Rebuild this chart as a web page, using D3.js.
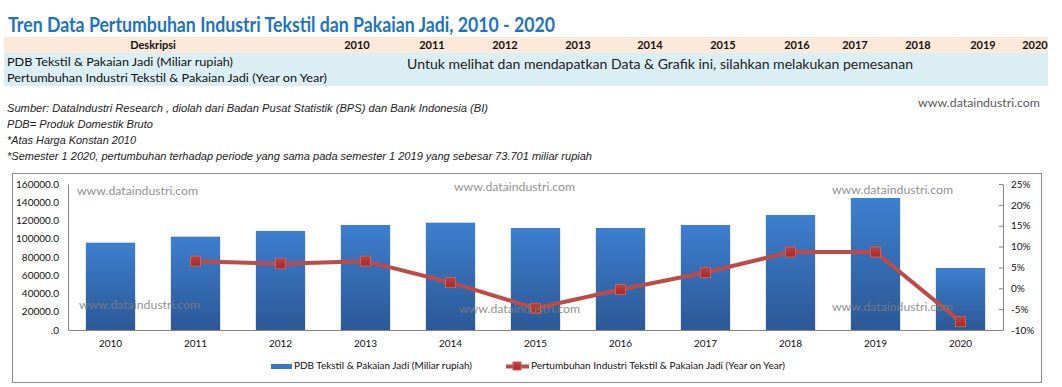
<!DOCTYPE html>
<html>
<head>
<meta charset="utf-8">
<script src="https://cdn.jsdelivr.net/npm/d3@7"></script>
<style>
  body { margin: 0; background: #fff; }
  svg text { font-family: Lato, "Open Sans", sans-serif; }
</style>
</head>
<body>
<script>
const w = 1062;
const h = 387;

// data
const years = ['2010', '2011', '2012', '2013', '2014', '2015', '2016', '2017', '2018', '2019', '2020'];
const pdb = [95700, 102300, 108500, 115100, 117600, 111800, 111800, 115100, 126000, 144700, 68000];
const growth = [null, 6.5, 5.9, 6.5, 1.4, -4.8, -0.3, 3.8, 8.7, 8.7, -8.0];
const leftTicks = [0, 20000, 40000, 60000, 80000, 100000, 120000, 140000, 160000];
const rightTicks = [-10, -5, 0, 5, 10, 15, 20, 25];
const seriesNames = ['PDB Tekstil & Pakaian Jadi (Miliar rupiah)', 'Pertumbuhan Industri Tekstil & Pakaian Jadi (Year on Year)'];
const notes = [
  'Sumber: DataIndustri Research , diolah dari Badan Pusat Statistik (BPS) dan Bank Indonesia (BI)',
  'PDB= Produk Domestik Bruto',
  '*Atas Harga Konstan 2010',
  '*Semester 1 2020, pertumbuhan terhadap periode yang sama pada semester 1 2019 yang sebesar 73.701 miliar rupiah'
];

// table column centres (spreadsheet column layout)
const headerX = [357, 432, 505, 578, 650, 723, 797, 855, 918, 983, 1035];
const noteWidths = [481, 146, 129, 585];

const plot = { left: 68, right: 1003, top: 184, bottom: 330 };

const svg = d3.select('body').append('svg')
  .attr('width', w)
  .attr('height', h);

const defs = svg.append('defs');
const grad = defs.append('linearGradient').attr('id', 'barGrad')
  .attr('x1', 0).attr('y1', 0).attr('x2', 0).attr('y2', 1);
grad.append('stop').attr('offset', '0%').attr('stop-color', '#3d7fcf');
grad.append('stop').attr('offset', '100%').attr('stop-color', '#2c5896');

const mgrad = defs.append('linearGradient').attr('id', 'markGrad')
  .attr('x1', 0).attr('y1', 0).attr('x2', 0).attr('y2', 1);
mgrad.append('stop').attr('offset', '0%').attr('stop-color', '#c0403c');
mgrad.append('stop').attr('offset', '100%').attr('stop-color', '#a52a27');

// title
svg.append('text')
  .attr('x', 8)
  .attr('y', 32)
  .attr('textLength', 547)
  .attr('lengthAdjust', 'spacingAndGlyphs')
  .style('font-size', '20px')
  .style('font-weight', 'bold')
  .attr('fill', '#1b74c5')
  .text('Tren Data Pertumbuhan Industri Tekstil dan Pakaian Jadi, 2010 - 2020');

// table
svg.append('rect').attr('x', 4).attr('y', 37).attr('width', 1044).attr('height', 16).attr('fill', '#fde9d9');
svg.append('rect').attr('x', 4).attr('y', 53).attr('width', 1044).attr('height', 33).attr('fill', '#daeef3');

svg.append('text')
  .attr('x', 153).attr('y', 49)
  .attr('text-anchor', 'middle')
  .style('font-size', '11px').style('font-weight', 'bold')
  .attr('fill', '#111')
  .text('Deskripsi');

svg.selectAll('.hyear')
  .data(years)
  .enter()
  .append('text')
  .attr('class', 'hyear')
  .attr('x', (d, i) => headerX[i])
  .attr('y', 49)
  .attr('text-anchor', 'middle')
  .style('font-size', '11px').style('font-weight', 'bold')
  .attr('fill', '#111')
  .text(d => d);

svg.append('text').attr('x', 7).attr('y', 66)
  .attr('textLength', 226).attr('lengthAdjust', 'spacingAndGlyphs')
  .style('font-size', '12px').attr('fill', '#111')
  .text(seriesNames[0]);
svg.append('text').attr('x', 7).attr('y', 82)
  .attr('textLength', 320).attr('lengthAdjust', 'spacingAndGlyphs')
  .style('font-size', '12px').attr('fill', '#111')
  .text(seriesNames[1]);

svg.append('text').attr('x', 407).attr('y', 69)
  .attr('textLength', 506).attr('lengthAdjust', 'spacingAndGlyphs')
  .style('font-size', '14px').attr('fill', '#222')
  .text('Untuk melihat dan mendapatkan Data & Grafik ini, silahkan melakukan pemesanan');

// notes
svg.selectAll('.note')
  .data(notes)
  .enter()
  .append('text')
  .attr('class', 'note')
  .attr('x', 7)
  .attr('y', (d, i) => 112 + i * 16)
  .attr('textLength', (d, i) => noteWidths[i])
  .attr('lengthAdjust', 'spacingAndGlyphs')
  .style('font-family', '"Liberation Sans", Arial, sans-serif')
  .style('font-style', 'italic')
  .style('font-size', '11px')
  .attr('fill', '#222')
  .text(d => d);

svg.append('text').attr('x', 918).attr('y', 107)
  .attr('textLength', 122).attr('lengthAdjust', 'spacingAndGlyphs')
  .style('font-size', '12px').attr('fill', '#595959')
  .text('www.dataindustri.com');

// chart frame
svg.append('rect')
  .attr('x', 12.5).attr('y', 173.5)
  .attr('width', 1029).attr('height', 209)
  .attr('fill', 'none').attr('stroke', '#8c8c8c');

const xScale = d3.scaleBand().domain(years).range([plot.left, plot.right]).paddingInner(0.42).paddingOuter(0.21);
const yScale = d3.scaleLinear().domain([0, 160000]).range([plot.bottom, plot.top]);
const y2Scale = d3.scaleLinear().domain([-10, 25]).range([plot.bottom, plot.top]);

// bars
svg.selectAll('.bar')
  .data(pdb)
  .enter()
  .append('rect')
  .attr('class', 'bar')
  .attr('x', (d, i) => xScale(years[i]))
  .attr('y', d => yScale(d))
  .attr('width', xScale.bandwidth())
  .attr('height', d => plot.bottom - yScale(d))
  .attr('fill', 'url(#barGrad)');

// axes
const yAxis = d3.axisLeft(yScale).tickValues(leftTicks).tickSize(0).tickPadding(9)
  .tickFormat(d => d === 0 ? '.0' : d.toFixed(1));
const gy = svg.append('g').attr('transform', `translate(${plot.left},0)`).call(yAxis);

const y2Axis = d3.axisRight(y2Scale).tickValues(rightTicks).tickSizeInner(-4).tickSizeOuter(0).tickPadding(8)
  .tickFormat(d => d + '%');
const gy2 = svg.append('g').attr('transform', `translate(${plot.right},0)`).call(y2Axis);

const xAxis = d3.axisBottom(xScale).tickSize(0).tickPadding(10);
const gx = svg.append('g').attr('transform', `translate(0,${plot.bottom})`).call(xAxis);

[gy, gy2, gx].forEach(g => {
  g.select('.domain').attr('stroke', '#868686');
  g.selectAll('.tick line').attr('stroke', '#868686');
  g.selectAll('text').style('font-size', '10px').style('font-family', 'Lato, sans-serif').attr('fill', '#111');
});

// growth line
const pts = growth.map((g, i) => ({ year: years[i], g })).filter(d => d.g !== null);
const line = d3.line()
  .x(d => xScale(d.year) + xScale.bandwidth() / 2)
  .y(d => y2Scale(d.g));

svg.append('path')
  .datum(pts)
  .attr('d', line)
  .attr('fill', 'none')
  .attr('stroke', '#be4b48')
  .attr('stroke-width', 4)
  .attr('stroke-linejoin', 'round');

svg.selectAll('.mark')
  .data(pts)
  .enter()
  .append('rect')
  .attr('class', 'mark')
  .attr('x', d => xScale(d.year) + xScale.bandwidth() / 2 - 5)
  .attr('y', d => y2Scale(d.g) - 5)
  .attr('width', 10)
  .attr('height', 10)
  .attr('fill', 'url(#markGrad)')
  .attr('stroke', '#c9605d')
  .attr('stroke-width', 1);

// watermarks
const wm = [[77, 195], [454, 191], [832, 194], [79, 309], [459, 313], [832, 311]];
svg.selectAll('.wm')
  .data(wm)
  .enter()
  .append('text')
  .attr('class', 'wm')
  .attr('x', d => d[0])
  .attr('y', d => d[1])
  .attr('textLength', 121)
  .attr('lengthAdjust', 'spacingAndGlyphs')
  .style('font-size', '12px')
  .attr('fill', '#7f7f7f')
  .attr('opacity', 0.85)
  .text('www.dataindustri.com');

// legend
const legend = svg.append('g');
legend.append('rect').attr('x', 271).attr('y', 364).attr('width', 21).attr('height', 5).attr('fill', '#3a78c2');
legend.append('text').attr('x', 294).attr('y', 369)
  .attr('textLength', 178).attr('lengthAdjust', 'spacingAndGlyphs')
  .style('font-size', '10px').attr('fill', '#111')
  .text(seriesNames[0]);
legend.append('line').attr('x1', 506).attr('x2', 529).attr('y1', 366.5).attr('y2', 366.5)
  .attr('stroke', '#be4b48').attr('stroke-width', 4);
legend.append('rect').attr('x', 513).attr('y', 362).attr('width', 8).attr('height', 8)
  .attr('fill', 'url(#markGrad)').attr('stroke', '#c9605d');
legend.append('text').attr('x', 531).attr('y', 369)
  .attr('textLength', 254).attr('lengthAdjust', 'spacingAndGlyphs')
  .style('font-size', '10px').attr('fill', '#111')
  .text(seriesNames[1]);
</script>
</body>
</html>
